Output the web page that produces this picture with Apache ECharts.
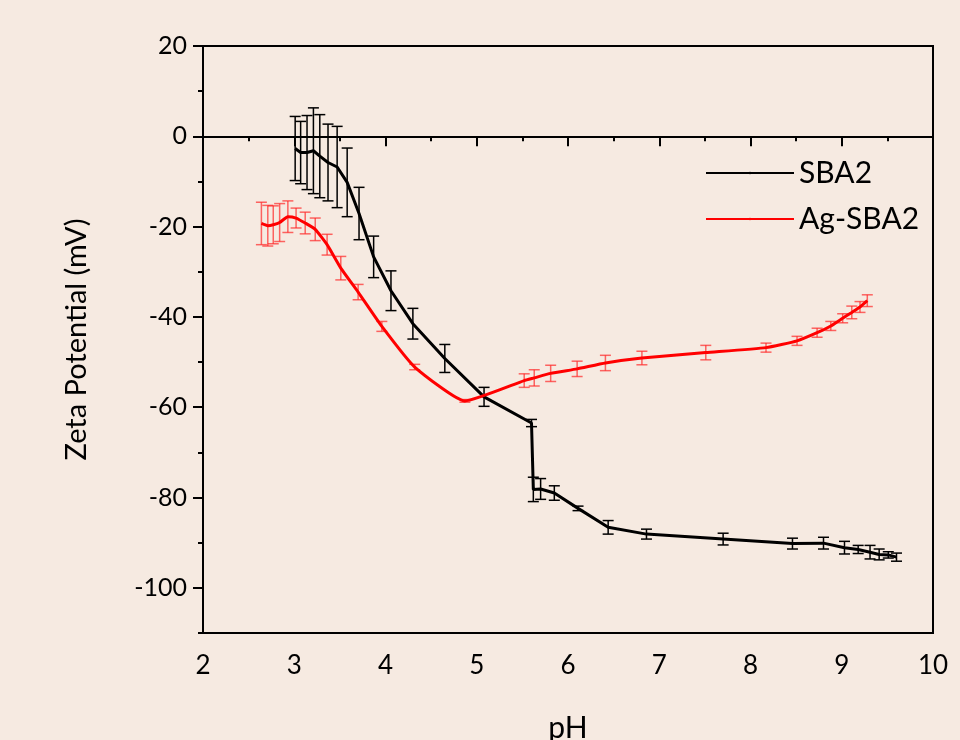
<!DOCTYPE html>
<html>
<head>
<meta charset="utf-8">
<script src="https://cdn.jsdelivr.net/npm/echarts@6/dist/echarts.min.js"></script>
<style>
  html, body { margin: 0; padding: 0; background: #f6eae1; }
  #chart { width: 960px; height: 740px; }
</style>
</head>
<body>
<div id="chart"></div>
<script>
// SBA2
var phSBA = [3.01, 3.07, 3.14, 3.21, 3.28, 3.37, 3.47, 3.58, 3.71, 3.87, 4.06, 4.30, 4.65, 5.08, 5.60, 5.62, 5.70, 5.85, 6.11, 6.44, 6.86, 7.70, 8.46, 8.80, 9.03, 9.18, 9.31, 9.41, 9.51, 9.60]
var zetaSBA = [-2.7, -3.6, -3.6, -3.2, -4.4, -5.8, -6.8, -10.2, -17.1, -26.7, -34.2, -41.5, -49.2, -57.7, -63.5, -78.2, -78.1, -79.0, -82.4, -86.6, -88.1, -89.2, -90.2, -90.1, -91.1, -91.5, -92.1, -92.6, -92.7, -93.2]
var errSBA = [7.1, 6.9, 8.2, 9.5, 9.2, 8.5, 9.0, 7.6, 5.8, 4.6, 4.4, 3.4, 3.1, 2.1, 0.8, 2.7, 2.3, 1.6, 0.5, 1.5, 1.1, 1.3, 1.2, 1.3, 1.4, 0.9, 1.5, 1.2, 0.7, 0.9]
// Ag-SBA2
var phAg = [2.64, 2.71, 2.77, 2.84, 2.93, 3.02, 3.12, 3.23, 3.36, 3.51, 3.70, 3.96, 4.32, 4.87, 5.52, 5.63, 5.81, 6.10, 6.41, 6.81, 7.51, 8.17, 8.51, 8.73, 8.88, 9.01, 9.11, 9.20, 9.28]
var zetaAg = [-19.3, -19.8, -19.6, -19.1, -17.8, -18.1, -19.2, -20.6, -24.0, -29.2, -34.5, -42.1, -51.1, -58.6, -54.1, -53.5, -52.5, -51.5, -50.2, -49.1, -47.9, -46.8, -45.3, -43.5, -42.0, -40.3, -39.0, -37.8, -36.4]
var errAg = [4.7, 4.5, 4.2, 4.2, 3.5, 2.2, 2.4, 2.5, 2.3, 2.6, 1.7, 1.1, 0.6, 0.3, 1.5, 1.8, 1.8, 1.7, 1.7, 1.5, 1.6, 1.0, 1.0, 1.0, 1.0, 1.0, 1.4, 1.2, 1.3]

var yMajor = [-100, -80, -60, -40, -20, 0, 20]
var yMinor = [-110, -90, -70, -50, -30, -10, 10]

var fontName = 'Lato, "Open Sans", sans-serif'

function pairs (xs, ys) {
  return xs.map(function (x, i) { return [x, ys[i]] })
}

function errData (xs, ys, es) {
  return xs.map(function (x, i) { return [x, ys[i] - es[i], ys[i] + es[i]] })
}

// draw one error bar (vertical line with caps)
function errRender (color) {
  return function (params, api) {
    var lo = api.coord([api.value(0), api.value(1)])
    var hi = api.coord([api.value(0), api.value(2)])
    var w = 5.5
    var style = { stroke: color, lineWidth: 1.5 }
    return {
      type: 'group',
      children: [
        { type: 'line', shape: { x1: lo[0], y1: lo[1], x2: hi[0], y2: hi[1] }, style: style },
        { type: 'line', shape: { x1: lo[0] - w, y1: lo[1], x2: lo[0] + w, y2: lo[1] }, style: style },
        { type: 'line', shape: { x1: hi[0] - w, y1: hi[1], x2: hi[0] + w, y2: hi[1] }, style: style }
      ]
    }
  }
}

var myChart = echarts.init(document.getElementById('chart'))
var option = {
  backgroundColor: '#f6eae1',
  animation: false,
  grid: {
    left: 203,
    right: 27,
    top: 46,
    bottom: 107,
    containLabel: false,
    outerBoundsMode: 'none',
    show: true,
    borderColor: '#000',
    borderWidth: 2,
    backgroundColor: 'transparent'
  },
  legend: {
    left: 700,
    top: 153,
    orient: 'vertical',
    itemWidth: 88,
    itemHeight: 3,
    itemGap: 16,
    data: ['SBA2', 'Ag-SBA2'],
    textStyle: { fontSize: 30, color: '#000', fontFamily: fontName }
  },
  xAxis: {
    type: 'value',
    min: 2,
    max: 10,
    interval: 1,
    name: 'pH',
    nameLocation: 'middle',
    nameGap: 80,
    nameTextStyle: { fontSize: 30, color: '#000', fontFamily: fontName },
    axisLine: { lineStyle: { color: '#000', width: 2 } },
    axisTick: { length: 10, lineStyle: { color: '#000', width: 2 } },
    minorTick: { show: true, splitNumber: 2, length: 5, lineStyle: { color: '#000', width: 2 } },
    axisLabel: { margin: 20, fontSize: 26, color: '#000', fontFamily: fontName },
    splitLine: { show: false }
  },
  yAxis: [{
    type: 'value',
    min: -110,
    max: 20,
    name: 'Zeta Potential (mV)',
    nameLocation: 'middle',
    nameGap: 112,
    nameTextStyle: { fontSize: 29, color: '#000', fontFamily: fontName },
    axisLine: { onZero: false, lineStyle: { color: '#000', width: 2 } },
    axisTick: { customValues: yMajor, length: 10, lineStyle: { color: '#000', width: 2 } },
    axisLabel: { customValues: yMajor, margin: 16, fontSize: 25, color: '#000', fontFamily: fontName },
    splitLine: { show: false }
  }, {
    type: 'value',
    min: -110,
    max: 20,
    position: 'left',
    axisLine: { show: false },
    axisTick: { customValues: yMinor, length: 5, lineStyle: { color: '#000', width: 2 } },
    axisLabel: { show: false },
    splitLine: { show: false }
  }],
  series: [
    {
      name: 'SBA2',
      type: 'line',
      data: pairs(phSBA, zetaSBA),
      symbol: 'none',
      color: '#000',
      lineStyle: { color: '#000', width: 3 },
      z: 4,
      markLine: {
        silent: true,
        symbol: 'none',
        label: { show: false },
        lineStyle: { color: '#000', width: 2, type: 'solid' },
        data: [{ yAxis: 0 }]
      }
    },
    {
      name: 'Ag-SBA2',
      type: 'line',
      data: pairs(phAg, zetaAg),
      symbol: 'none',
      smooth: 0.15,
      color: '#ff0000',
      lineStyle: { color: '#ff0000', width: 3 },
      z: 4
    },
    {
      type: 'custom',
      renderItem: errRender('#000'),
      data: errData(phSBA, zetaSBA, errSBA),
      encode: { x: 0, y: [1, 2] },
      silent: true,
      z: 3
    },
    {
      type: 'custom',
      renderItem: errRender('rgba(255,40,40,0.7)'),
      data: errData(phAg, zetaAg, errAg),
      encode: { x: 0, y: [1, 2] },
      silent: true,
      z: 3
    }
  ]
}
myChart.setOption(option)
</script>
</body>
</html>
